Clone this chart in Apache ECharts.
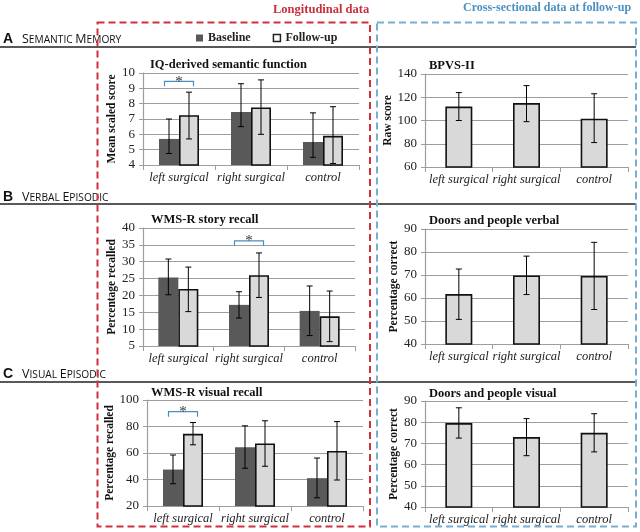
<!DOCTYPE html>
<html>
<head>
<meta charset="utf-8">
<script src="https://cdn.jsdelivr.net/npm/echarts@6/dist/echarts.min.js"></script>
<style>html,body{margin:0;padding:0;background:#fff}#c{width:640px;height:532px}</style>
</head>
<body>
<div id="c"></div>
<script>
// ---------- data ----------
const categories = ['left surgical', 'right surgical', 'control'];

// A: Semantic memory
const semBase = [5.7, 7.45, 5.5];
const semBaseLo = [4.75, 6.5, 4.5];
const semBaseHi = [7.0, 9.3, 7.4];
const semFollow = [7.25, 7.75, 5.9];
const semFollowLo = [5.7, 6.0, 4.1];
const semFollowHi = [8.75, 9.55, 7.8];
const semSig = [[0, 9.46]];

const bpvs = [112, 115, 101.5];
const bpvsLo = [100, 99, 81];
const bpvsHi = [124, 130, 123];

// B: Verbal episodic
const storyBase = [25.3, 17.2, 15.4];
const storyBaseLo = [20.2, 13.3, 8.1];
const storyBaseHi = [30.8, 21.1, 22.8];
const storyFollow = [21.9, 26.0, 13.8];
const storyFollowLo = [15.2, 19.4, 6.3];
const storyFollowHi = [28.4, 32.6, 21.3];
const storySig = [[1, 36.2]];

const dpVerbal = [61.7, 69.8, 69.6];
const dpVerbalLo = [50.7, 61.5, 55.0];
const dpVerbalHi = [72.6, 78.2, 84.2];

// C: Visual episodic
const visBase = [47.5, 64.3, 41.0];
const visBaseLo = [36.8, 48.5, 26.2];
const visBaseHi = [58.5, 80.5, 56.2];
const visFollow = [74.5, 67.2, 61.6];
const visFollowLo = [66.2, 50.0, 39.6];
const visFollowHi = [83.0, 84.3, 83.7];
const visSig = [[0, 91.2]];

const dpVisual = [79.6, 73.0, 75.0];
const dpVisualLo = [72.5, 64.2, 66.0];
const dpVisualHi = [86.8, 81.7, 84.0];

const panelTitles = ['IQ-derived semantic function', 'BPVS-II', 'WMS-R story recall',
  'Doors and people verbal', 'WMS-R visual recall', 'Doors and people visual'];
const yNames = ['Mean scaled score', 'Raw score', 'Percentage recalled',
  'Percentage correct', 'Percentage recalled', 'Percentage correct'];
const yMin = [4, 60, 5, 40, 20, 40];
const yMax = [10, 140, 40, 90, 100, 90];
const yStep = [1, 20, 5, 10, 20, 10];

// ---------- layout / style ----------
const SERIF = 'Liberation Serif';
const SANS = 'Open Sans';
const GRID_COLOR = '#9d9d9d';
const grids = [
  {left: 143, top: 73, width: 216, height: 92},
  {left: 425, top: 74, width: 203, height: 93},
  {left: 143, top: 228, width: 212, height: 118},
  {left: 425, top: 229, width: 203, height: 115},
  {left: 147, top: 400, width: 216, height: 106},
  {left: 425, top: 401, width: 203, height: 106}
];
const nameGaps = [24, 27, 21, 24, 28, 24];
const titlePos = [[150, 58], [429, 59], [151, 213], [429, 214], [151, 386], [429, 387]];

function zip(lo, hi) { return lo.map((v, i) => [i, v, hi[i]]); }

function errRender(offset) {
  return function (params, api) {
    const i = api.value(0);
    const lo = api.coord([i, api.value(1)]);
    const hi = api.coord([i, api.value(2)]);
    const x = lo[0] + offset;
    const c = 3;
    const st = {stroke: '#000', lineWidth: 1};
    return {type: 'group', children: [
      {type: 'line', shape: {x1: x, y1: lo[1], x2: x, y2: hi[1]}, style: st},
      {type: 'line', shape: {x1: x - c, y1: lo[1], x2: x + c, y2: lo[1]}, style: st},
      {type: 'line', shape: {x1: x - c, y1: hi[1], x2: x + c, y2: hi[1]}, style: st}
    ]};
  };
}
function sigRender(params, api) {
  const p = api.coord([api.value(0), api.value(1)]);
  const w = 14.5, d = 5;
  return {type: 'group', children: [
    {type: 'polyline', shape: {points: [[p[0] - w, p[1] + d], [p[0] - w, p[1]], [p[0] + w, p[1]], [p[0] + w, p[1] + d]]},
      style: {stroke: '#4a8fbb', lineWidth: 1.2, fill: null}},
    {type: 'text', x: p[0], y: p[1] + 0.5, style: {text: '*', fontSize: 15, fontFamily: SERIF, fill: '#333',
      align: 'center', verticalAlign: 'middle'}}
  ]};
}

function errSeries(grid, lo, hi, offset) {
  return {type: 'custom', xAxisIndex: grid, yAxisIndex: grid, z: 5, silent: true,
    renderItem: errRender(offset), encode: {x: 0, y: [1, 2]}, data: zip(lo, hi)};
}
function sigSeries(grid, data) {
  return {type: 'custom', xAxisIndex: grid, yAxisIndex: grid, z: 6, silent: true,
    renderItem: sigRender, encode: {x: 0, y: 1}, data: data};
}
const baseStyle = {color: '#595959'};
const followStyle = {color: '#d9d9d9', borderColor: '#111', borderWidth: 1.6};

function pairSeries(grid, base, follow, bLo, bHi, fLo, fHi) {
  return [
    {name: 'Baseline', type: 'bar', xAxisIndex: grid, yAxisIndex: grid, data: base,
      barWidth: 20, barGap: '0%', itemStyle: baseStyle},
    {name: 'Follow-up', type: 'bar', xAxisIndex: grid, yAxisIndex: grid, data: follow,
      barWidth: 20, barGap: '0%', itemStyle: followStyle},
    errSeries(grid, bLo, bHi, -10),
    errSeries(grid, fLo, fHi, 10)
  ];
}
function singleSeries(grid, vals, lo, hi) {
  return [
    {name: 'Follow-up', type: 'bar', xAxisIndex: grid, yAxisIndex: grid, data: vals,
      barWidth: 27, itemStyle: followStyle},
    errSeries(grid, lo, hi, 0)
  ];
}

const series = [].concat(
  pairSeries(0, semBase, semFollow, semBaseLo, semBaseHi, semFollowLo, semFollowHi),
  [sigSeries(0, semSig)],
  singleSeries(1, bpvs, bpvsLo, bpvsHi),
  pairSeries(2, storyBase, storyFollow, storyBaseLo, storyBaseHi, storyFollowLo, storyFollowHi),
  [sigSeries(2, storySig)],
  singleSeries(3, dpVerbal, dpVerbalLo, dpVerbalHi),
  pairSeries(4, visBase, visFollow, visBaseLo, visBaseHi, visFollowLo, visFollowHi),
  [sigSeries(4, visSig)],
  singleSeries(5, dpVisual, dpVisualLo, dpVisualHi)
);

function header(letter, big1, small1, big2, small2, y) {
  return [
    {type: 'text', x: 3, y: y, style: {text: letter, fontFamily: 'Liberation Sans', fontWeight: 'bold',
      fontSize: 14, fill: '#111', verticalAlign: 'middle'}},
    {type: 'text', x: 22, y: y, style: {
      text: '{b|' + big1 + '}{s|' + small1 + ' }{b|' + big2 + '}{s|' + small2 + '}',
      verticalAlign: 'middle',
      rich: {b: {fontFamily: SANS, fontSize: 12.5, fill: '#111', verticalAlign: 'bottom'},
             s: {fontFamily: SANS, fontSize: 10.2, fill: '#111', verticalAlign: 'bottom'}}}}
  ];
}
function hline(y) {
  return {type: 'line', shape: {x1: 0, y1: y, x2: 636, y2: y}, style: {stroke: '#222', lineWidth: 1.3}, z: 1};
}

const option = {
  animation: false,
  backgroundColor: '#fff',
  title: panelTitles.map((t, i) => ({text: t, left: titlePos[i][0], top: titlePos[i][1], padding: 0,
    textStyle: {fontFamily: SERIF, fontWeight: 'bold', fontSize: 12.5, color: '#111'}})),
  legend: {
    data: [
      {name: 'Baseline', itemStyle: {color: '#595959', borderWidth: 0}},
      {name: 'Follow-up', itemStyle: {color: '#fff', borderColor: '#222', borderWidth: 1.5}}
    ],
    left: 196, top: 32, padding: 0, itemWidth: 7, itemHeight: 7, itemGap: 22, icon: 'rect',
    selectedMode: false,
    textStyle: {fontFamily: SERIF, fontWeight: 'bold', fontSize: 12, color: '#222'}
  },
  grid: grids,
  xAxis: grids.map((g, i) => ({
    type: 'category', gridIndex: i, data: categories,
    axisLine: {lineStyle: {color: GRID_COLOR, width: 1.2}},
    axisTick: {show: true, length: 5, lineStyle: {color: GRID_COLOR, width: 1}},
    axisLabel: {interval: 0, margin: 6, fontFamily: SERIF, fontStyle: 'italic', fontSize: 12.5, color: '#222'}
  })),
  yAxis: grids.map((g, i) => ({
    type: 'value', gridIndex: i, min: yMin[i], max: yMax[i], interval: yStep[i],
    name: yNames[i], nameLocation: 'middle', nameGap: nameGaps[i],
    nameTextStyle: {fontFamily: SERIF, fontWeight: 'bold', fontSize: 11.5, color: '#111'},
    axisLine: {show: true, lineStyle: {color: GRID_COLOR, width: 1.2}},
    axisTick: {show: true, length: 4, lineStyle: {color: GRID_COLOR}},
    splitLine: {show: true, lineStyle: {color: GRID_COLOR, width: 1.2}},
    axisLabel: {margin: 8, fontFamily: SERIF, fontSize: 13, color: '#222'}
  })),
  series: series,
  graphic: [].concat(
    [hline(47), hline(204), hline(382)],
    header('A', 'S', 'EMANTIC', 'M', 'EMORY', 39),
    header('B', 'V', 'ERBAL', 'E', 'PISODIC', 197),
    header('C', 'V', 'ISUAL', 'E', 'PISODIC', 374),
    [
      {type: 'rect', shape: {x: 97.5, y: 22.5, width: 272.5, height: 504},
        style: {fill: null, stroke: '#d0323c', lineWidth: 2, lineDash: [7, 4]}, z: 10},
      {type: 'rect', shape: {x: 377, y: 22.5, width: 259, height: 504},
        style: {fill: null, stroke: '#78aed3', lineWidth: 2, lineDash: [7, 4]}, z: 10},
      {type: 'text', x: 273, y: 10, style: {text: 'Longitudinal data', fontFamily: SERIF, fontWeight: 'bold',
        fontSize: 12.5, fill: '#c8303c', verticalAlign: 'middle'}},
      {type: 'text', x: 463, y: 8, style: {text: 'Cross-sectional data at follow-up', fontFamily: SERIF,
        fontWeight: 'bold', fontSize: 12, fill: '#4a90c2', verticalAlign: 'middle'}}
    ]
  )
};

const chart = echarts.init(document.getElementById('c'), null, {renderer: 'canvas'});
chart.setOption(option);
</script>
</body>
</html>
